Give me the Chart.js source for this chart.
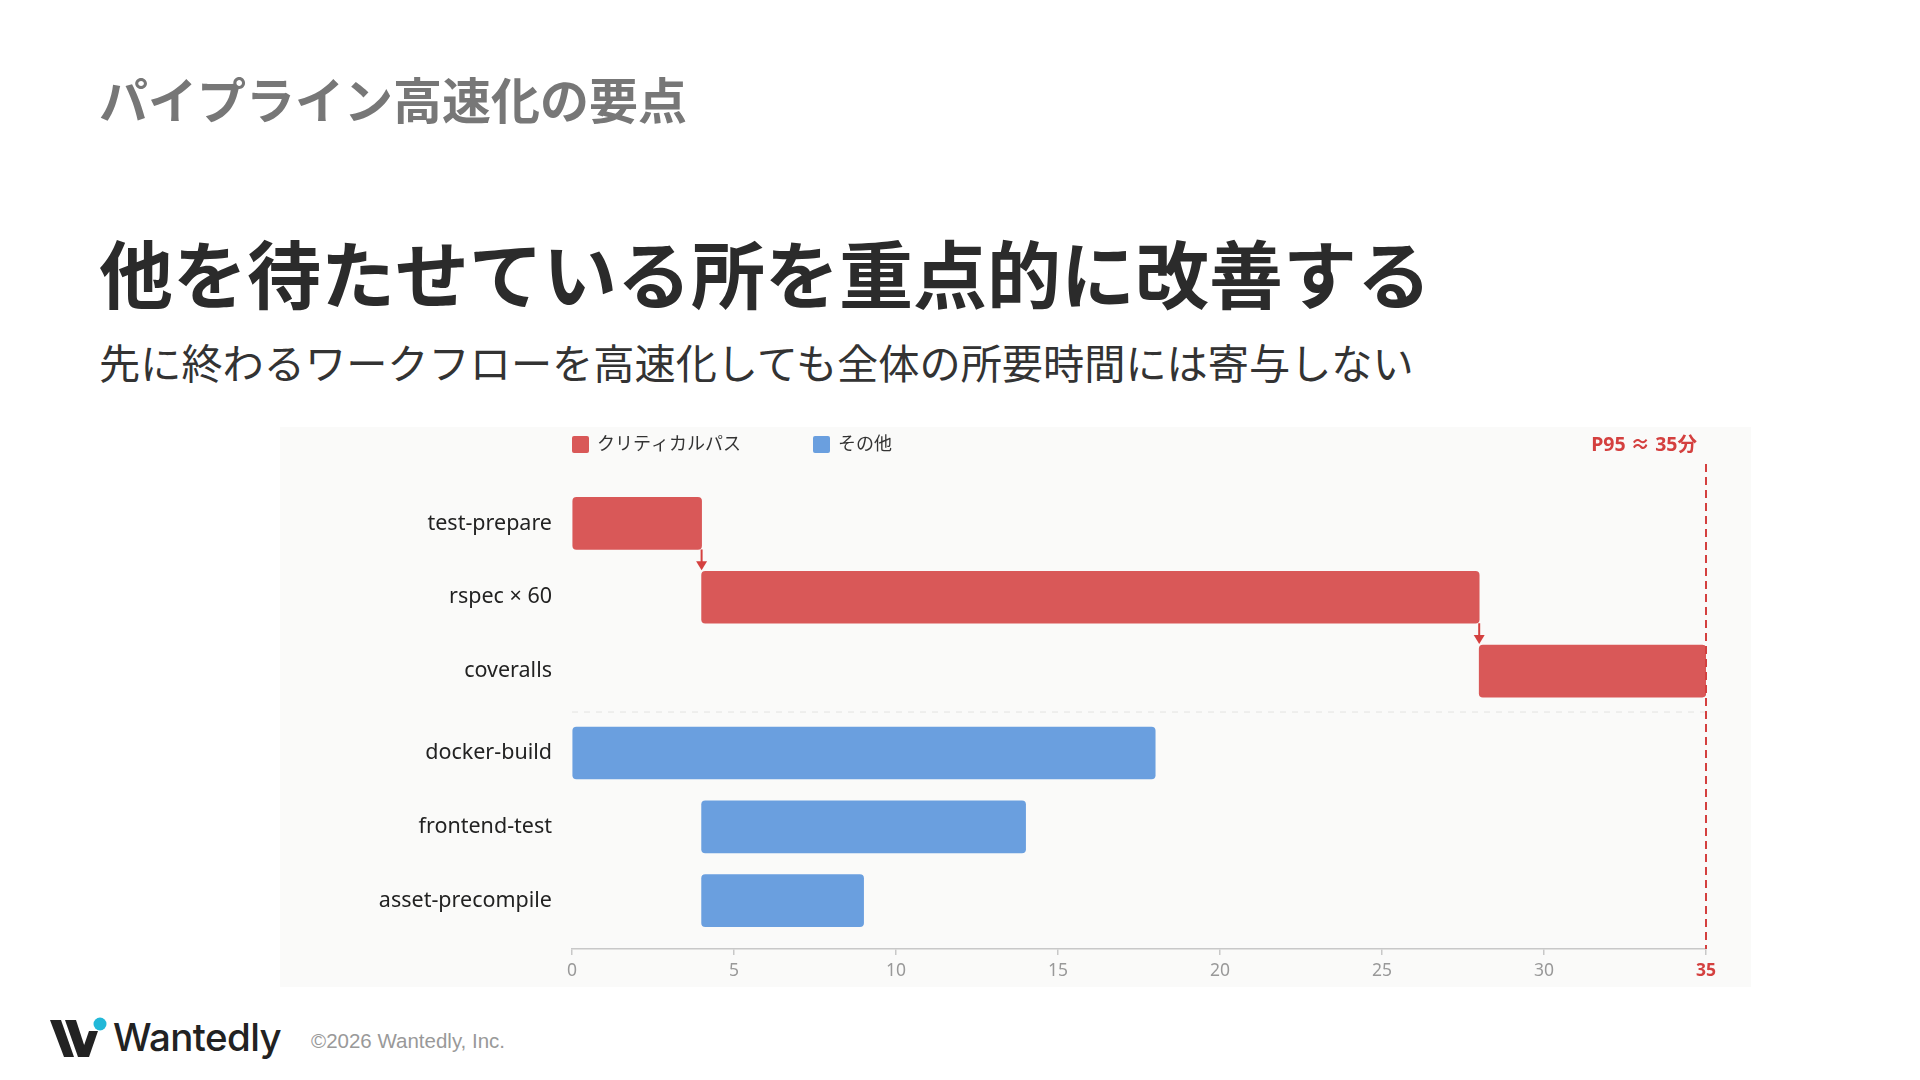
<!DOCTYPE html>
<html lang="ja">
<head>
<meta charset="utf-8">
<script src="https://cdn.jsdelivr.net/npm/chart.js@4.4.1/dist/chart.umd.min.js"></script>
<style>
  html, body { margin: 0; padding: 0; background: #fff; }
  body { width: 1920px; height: 1080px; position: relative; overflow: hidden;
    font-family: "Noto Sans CJK JP", "Noto Sans", sans-serif; }
  .t { position: absolute; left: 99px; white-space: nowrap; line-height: 1; }
  #kicker { top: 73px; font-size: 49px; font-weight: 700; color: #777; }
  #title { top: 234px; font-size: 74px; font-weight: 700; color: #2b2b2b; }
  #sub { top: 341px; font-size: 41.2px; font-weight: 400; color: #333; }
  #panel { position: absolute; left: 280px; top: 427px; width: 1471px; height: 560px; background: #fafaf9; }
  #footer { position: absolute; left: 50px; top: 1014px; height: 46px; display: flex; align-items: center; }
  #wordmark { font-family: Inter, "Noto Sans", sans-serif; font-weight: 500; font-size: 38.5px; color: #222; margin-left: 3px; letter-spacing: -0.6px; }
  #copy { font-family: "Liberation Sans", sans-serif; font-size: 20.5px; color: #999; margin-left: 30px; margin-top: 8px; }
</style>
</head>
<body>
<div class="t" id="kicker">パイプライン高速化の要点</div>
<div class="t" id="title">他を待たせている所を重点的に改善する</div>
<div class="t" id="sub">先に終わるワークフローを高速化しても全体の所要時間には寄与しない</div>
<div id="panel"><canvas id="gantt"></canvas></div>
<div id="footer">
  <svg width="60" height="42" viewBox="0 0 60 42">
    <polygon points="0,4 11,4 24,41 14,41" fill="#222"/>
    <polygon points="15,4 26,4 38,41 28,41" fill="#222"/>
    <polygon points="30,41 39,41 48,15 39,15" fill="#222"/>
    <circle cx="50" cy="8" r="6.5" fill="#22b8d8"/>
  </svg>
  <span id="wordmark">Wantedly</span>
  <span id="copy">©2026 Wantedly, Inc.</span>
</div>
<script>
// Data
const jobs = ['test-prepare', 'rspec × 60', 'coveralls', 'docker-build', 'frontend-test', 'asset-precompile'];
const starts = [0, 4, 28, 0, 4, 4];
const ends = [4, 28, 35, 18, 14, 9];
const onCriticalPath = [true, true, true, false, false, false];
const seriesNames = ['クリティカルパス', 'その他'];
const xTicks = [0, 5, 10, 15, 20, 25, 30, 35];
const p95 = 35;
const p95Label = 'P95 ≈ 35分';

const RED = '#d95858';
const BLUE = '#6a9fdf';
const ACCENT = '#d4403f';
const FONT = '"Noto Sans", "Noto Sans CJK JP", sans-serif';

// extra space between the critical group and the rest
const rowPos = jobs.map((_, i) => i + (onCriticalPath[i] ? 0 : 0.11));

const rowsFor = (flag) =>
  jobs
    .map((_, i) => ({ x: [starts[i], ends[i]], y: rowPos[i], crit: onCriticalPath[i] }))
    .filter((d) => d.crit === flag);

const BAR_H = 52;

const overlay = {
  id: 'overlay',
  beforeDatasetsDraw(chart) {
    const { ctx, chartArea: a, scales } = chart;
    // separator between groups
    const lastCrit = onCriticalPath.lastIndexOf(true);
    const sepY = (scales.y.getPixelForValue(rowPos[lastCrit]) + scales.y.getPixelForValue(rowPos[lastCrit + 1])) / 2;
    ctx.save();
    ctx.strokeStyle = '#e4e4e2';
    ctx.lineWidth = 1;
    ctx.setLineDash([6, 6]);
    ctx.beginPath();
    ctx.moveTo(a.left, sepY);
    ctx.lineTo(a.right, sepY);
    ctx.stroke();
    ctx.restore();
  },
  afterDatasetsDraw(chart) {
    const { ctx, chartArea: a, scales } = chart;
    const { x, y } = scales;
    ctx.save();

    // P95 line
    const px = x.getPixelForValue(p95);
    ctx.strokeStyle = ACCENT;
    ctx.lineWidth = 2;
    ctx.setLineDash([8, 5]);
    ctx.beginPath();
    ctx.moveTo(px, a.top);
    ctx.lineTo(px, a.bottom);
    ctx.stroke();
    ctx.setLineDash([]);

    // arrows along the critical path
    ctx.fillStyle = ACCENT;
    for (let i = 0; i < jobs.length - 1; i++) {
      if (!onCriticalPath[i] || !onCriticalPath[i + 1]) continue;
      const ax = x.getPixelForValue(ends[i]);
      const y0 = y.getPixelForValue(rowPos[i]) + BAR_H / 2;
      const y1 = y.getPixelForValue(rowPos[i + 1]) - BAR_H / 2;
      ctx.beginPath();
      ctx.moveTo(ax, y0);
      ctx.lineTo(ax, y1 - 8);
      ctx.stroke();
      ctx.beginPath();
      ctx.moveTo(ax - 5.5, y1 - 10);
      ctx.lineTo(ax + 5.5, y1 - 10);
      ctx.lineTo(ax, y1 - 1);
      ctx.closePath();
      ctx.fill();
    }

    // legend
    const ly = a.top - 20;
    ctx.font = '400 18px ' + FONT;
    ctx.textBaseline = 'middle';
    let lx = a.left;
    chart.data.datasets.forEach((ds) => {
      ctx.fillStyle = ds.backgroundColor;
      ctx.beginPath();
      ctx.roundRect(lx, ly - 8, 17, 17, 2);
      ctx.fill();
      ctx.fillStyle = '#333';
      ctx.textAlign = 'left';
      ctx.fillText(ds.label, lx + 25, ly + 1);
      lx += 241;
    });

    // P95 label
    ctx.font = '700 19.5px ' + FONT;
    ctx.fillStyle = ACCENT;
    ctx.textAlign = 'right';
    ctx.fillText(p95Label, px - 9, ly + 1);
    ctx.restore();
  },
};

new Chart(document.getElementById('gantt'), {
  type: 'bar',
  data: {
    datasets: [
      { label: seriesNames[0], data: rowsFor(true), backgroundColor: RED },
      { label: seriesNames[1], data: rowsFor(false), backgroundColor: BLUE },
    ],
  },
  options: {
    indexAxis: 'y',
    responsive: true,
    maintainAspectRatio: false,
    animation: false,
    grouped: false,
    barThickness: BAR_H,
    borderRadius: 4,
    borderSkipped: false,
    layout: { padding: { top: 37, right: 45, left: 0, bottom: 0 } },
    plugins: { legend: { display: false }, tooltip: { enabled: false } },
    scales: {
      x: {
        type: 'linear',
        min: 0,
        max: 35,
        offset: false,
        afterBuildTicks: (s) => { s.ticks = xTicks.map((v) => ({ value: v })); },
        afterFit: (s) => { s.height = 38; },
        border: { display: true, color: '#c8c8c8', width: 1.5 },
        grid: { offset: false, drawOnChartArea: false, drawTicks: true, tickLength: 6, color: '#c8c8c8', lineWidth: 1.5 },
        ticks: {
          padding: 6,
          color: (c) => (c.tick.value === p95 ? ACCENT : '#999'),
          font: (c) => ({ family: FONT, size: 17.5, weight: c.tick && c.tick.value === p95 ? '700' : '400' }),
        },
      },
      y: {
        type: 'linear',
        reverse: true,
        offset: false,
        min: -0.805,
        max: 5.765,
        afterBuildTicks: (s) => { s.ticks = rowPos.map((v) => ({ value: v })); },
        afterFit: (s) => { s.width = 292; },
        border: { display: false },
        grid: { display: false, offset: false },
        ticks: {
          autoSkip: false,
          padding: 12,
          color: '#222',
          font: { family: FONT, size: 21.5 },
          callback: (v, i) => jobs[i],
        },
      },
    },
  },
  plugins: [overlay],
});
</script>
</body>
</html>
